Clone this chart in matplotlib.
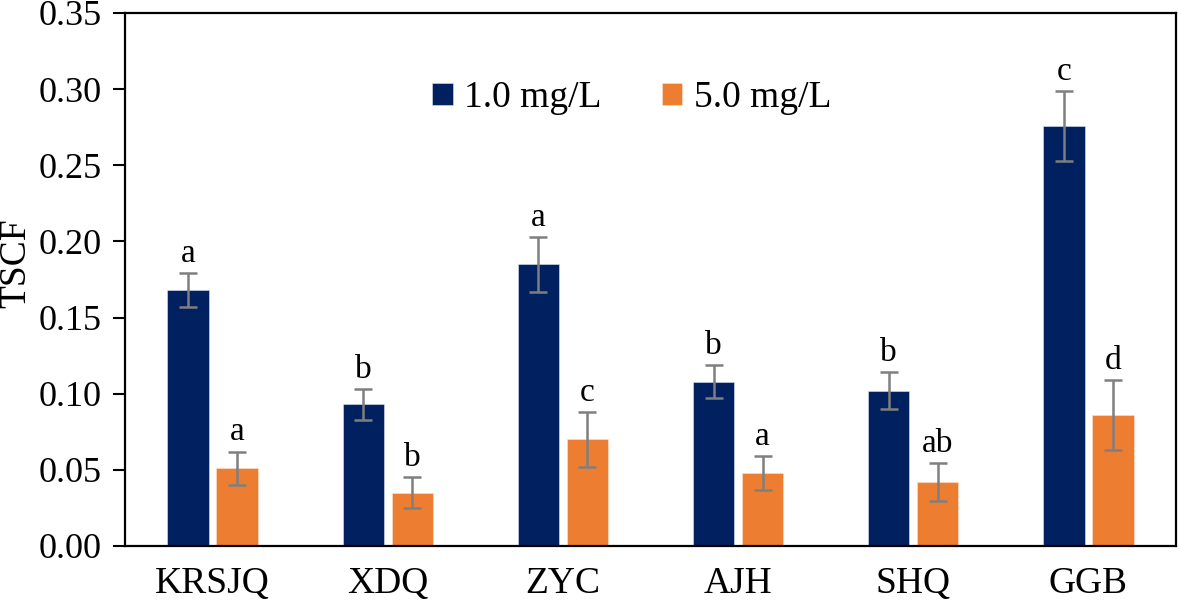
import numpy as np
import matplotlib
matplotlib.use("Agg")
import matplotlib.pyplot as plt

plt.rcParams['font.family'] = ['Liberation Serif', 'DejaVu Serif']

sites = ['KRSJQ', 'XDQ', 'ZYC', 'AJH', 'SHQ', 'GGB']
low_vals = [0.168, 0.093, 0.185, 0.108, 0.102, 0.276]
low_err = [0.011, 0.010, 0.018, 0.011, 0.012, 0.023]
high_vals = [0.051, 0.035, 0.070, 0.048, 0.042, 0.086]
high_err = [0.011, 0.010, 0.018, 0.011, 0.0125, 0.023]
low_letters = ['a', 'b', 'a', 'b', 'b', 'c']
high_letters = ['a', 'b', 'c', 'a', 'ab', 'd']

fig = plt.figure(figsize=(11.81, 6.13), dpi=100)
ax = fig.add_axes([0.1058, 0.1093, 0.8900, 0.8695])

x = np.arange(len(sites))
w = 0.235
off = 0.14
err_kw = dict(ecolor='#7f7f7f', elinewidth=1.8, capsize=6.5, capthick=1.8)

ax.bar(x - off, low_vals, w, yerr=low_err, color='#002060', label='1.0 mg/L',
       error_kw=err_kw, edgecolor='#dde3ee', linewidth=0.4)
ax.bar(x + off, high_vals, w, yerr=high_err, color='#ed7d31', label='5.0 mg/L',
       error_kw=err_kw, edgecolor='#fbe3d4', linewidth=0.4)

for i in range(len(sites)):
    ax.annotate(low_letters[i], (x[i] - off, low_vals[i] + low_err[i]),
                xytext=(0, 8), textcoords='offset points', ha='center',
                va='baseline', fontsize=24)
    ax.annotate(high_letters[i], (x[i] + off, high_vals[i] + high_err[i]),
                xytext=(0, 8), textcoords='offset points', ha='center',
                va='baseline', fontsize=24)

ax.set_xlim(-0.5, 5.5)
ax.set_ylim(0, 0.35)
ax.set_yticks(np.arange(0, 0.351, 0.05))
ax.set_yticklabels([f'{v:.2f}' for v in np.arange(0, 0.351, 0.05)])
ax.set_xticks(x)
ax.set_xticklabels(sites, fontsize=27)
ax.tick_params(axis='x', length=0, pad=15)
ax.tick_params(axis='y', labelsize=26, length=9, width=1.5, direction='out', pad=8)
ax.set_ylabel('TSCF', fontsize=27)
ax.yaxis.set_label_coords(-0.087, 0.53)

for s in ax.spines.values():
    s.set_linewidth(1.6)

ax.legend(loc='center', bbox_to_anchor=(0.535, 1 - 98 / 613),
          bbox_transform=fig.transFigure, ncol=2, frameon=False,
          fontsize=27, handlelength=0.55, handleheight=0.55,
          handletextpad=0.3, columnspacing=1.6)

fig.savefig('out.png', dpi=100)
